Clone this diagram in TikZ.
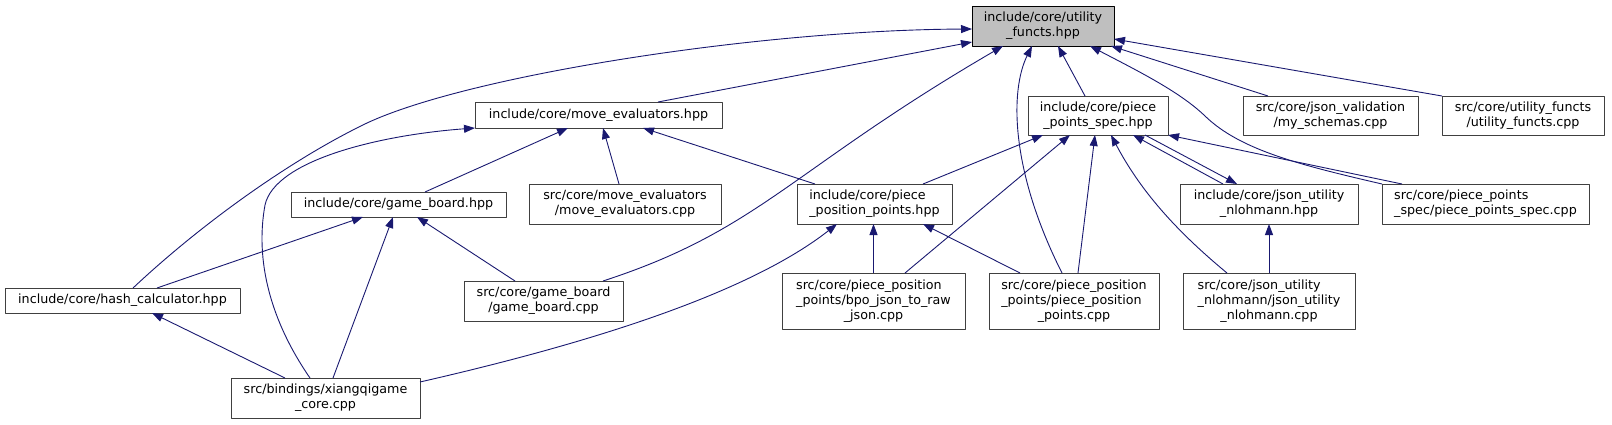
\documentclass[tikz,border=0pt]{standalone}
\usepackage{fontspec}
\setmainfont{DejaVu Sans}
\usetikzlibrary{arrows.meta}
\usepackage{xcolor}
\definecolor{edgeblue}{HTML}{191970}
\definecolor{boxline}{HTML}{404040}
\definecolor{rootgray}{HTML}{BFBFBF}
% file label: leading lines flush left, last line centred
\newcommand{\doxlabel}[2]{\begin{tabular}{@{}l@{}}#1\\\multicolumn{1}{@{}c@{}}{#2}\end{tabular}}

\begin{document}
\begin{tikzpicture}[x=1pt, y=-1pt, line join=round, >={Triangle[length=11pt,width=8pt]},
    filebox/.style={draw=boxline, line width=1pt, fill=white, inner sep=0pt, outer sep=0pt,
      font=\fontsize{12.7}{15}\selectfont},
    rootbox/.style={filebox, draw=black, fill=rootgray},
    dep/.style={->, draw=edgeblue, line width=0.9pt}]
  \useasboundingbox (0,0) rectangle (1612,424);

  % ========================================================
  % 1. FILE NODES (top row: included header)
  % ========================================================
  \node[rootbox, minimum width=142pt, minimum height=40pt] (uf) at (1043,26) {\doxlabel{include/core/utility}{\_functs.hpp}};

  % second row
  \node[filebox, minimum width=247pt, minimum height=26pt] (me) at (598.5,115) {include/core/move\_evaluators.hpp};
  \node[filebox, minimum width=140pt, minimum height=39pt] (pps) at (1098,115.5) {\doxlabel{include/core/piece}{\_points\_spec.hpp}};
  \node[filebox, minimum width=175pt, minimum height=39pt] (schemas) at (1330.5,115.5) {\doxlabel{src/core/json\_validation}{/my\_schemas.cpp}};
  \node[filebox, minimum width=162pt, minimum height=39pt] (ufcpp) at (1523,115.5) {\doxlabel{src/core/utility\_functs}{/utility\_functs.cpp}};

  % third row
  \node[filebox, minimum width=215pt, minimum height=25pt] (gb) at (398.5,204.5) {include/core/game\_board.hpp};
  \node[filebox, minimum width=192pt, minimum height=40pt] (mecpp) at (625,204) {\doxlabel{src/core/move\_evaluators}{/move\_evaluators.cpp}};
  \node[filebox, minimum width=155pt, minimum height=40pt] (pph) at (874.5,204) {\doxlabel{include/core/piece}{\_position\_points.hpp}};
  \node[filebox, minimum width=178pt, minimum height=40pt] (jun) at (1269,204) {\doxlabel{include/core/json\_utility}{\_nlohmann.hpp}};
  \node[filebox, minimum width=207pt, minimum height=40pt] (ppscpp) at (1485.5,204) {\doxlabel{src/core/piece\_points}{\_spec/piece\_points\_spec.cpp}};

  % fourth row
  \node[filebox, minimum width=235pt, minimum height=25pt] (hash) at (122.5,300.5) {include/core/hash\_calculator.hpp};
  \node[filebox, minimum width=159pt, minimum height=40pt] (gbcpp) at (543.5,301) {\doxlabel{src/core/game\_board}{/game\_board.cpp}};
  \node[filebox, minimum width=183pt, minimum height=56pt] (bpo) at (873.5,301) {\doxlabel{src/core/piece\_position\\\_points/bpo\_json\_to\_raw}{\_json.cpp}};
  \node[filebox, minimum width=170pt, minimum height=56pt] (ppcpp) at (1074,301) {\doxlabel{src/core/piece\_position\\\_points/piece\_position}{\_points.cpp}};
  \node[filebox, minimum width=172pt, minimum height=56pt] (juncpp) at (1269,301) {\doxlabel{src/core/json\_utility\\\_nlohmann/json\_utility}{\_nlohmann.cpp}};

  % bottom row
  \node[filebox, minimum width=189pt, minimum height=40pt] (core) at (325.5,398) {\doxlabel{src/bindings/xiangqigame}{\_core.cpp}};

  % ========================================================
  % 2. EDGES INTO utility_functs.hpp
  % ========================================================
  \draw[dep] ([xshift=10.5pt]hash.north) .. controls (200,225) and (290,160) .. (367,123)
    .. controls (470,75) and (760,30) .. ([yshift=-3pt]uf.west);
  \draw[dep] ([xshift=59.5pt]me.north) -- ([yshift=-16pt]uf.west);
  \draw[dep] ([xshift=59.5pt]gbcpp.north) .. controls (760,230) and (790,170) .. ([xshift=-40pt]uf.south);
  \draw[dep] ([xshift=-12pt]ppcpp.north) .. controls (1010,170) and (1010,90) .. ([xshift=-11pt]uf.south);
  \draw[dep] ([xshift=-13pt]pps.north) -- ([xshift=15pt]uf.south);
  \draw[dep] (ppscpp.north west) .. controls (1300,165) and (1240,150) .. (1205,116)
    .. controls (1180,92) and (1140,72) .. ([xshift=47pt]uf.south);
  \draw[dep] ([xshift=-62.5pt]schemas.north) -- ([xshift=-3pt]uf.south east);
  \draw[dep] (ufcpp.north west) -- ([yshift=-13pt]uf.east);

  % ========================================================
  % 3. EDGES INTO move_evaluators.hpp AND game_board.hpp
  % ========================================================
  \draw[dep] ([xshift=-15.5pt]core.north) .. controls (270,320) and (255,260) .. (265,205)
    .. controls (275,160) and (380,135) .. (me.south west);
  \draw[dep] ([xshift=26.5pt]gb.north) -- ([xshift=-30.5pt]me.south);
  \draw[dep] ([xshift=-6pt]mecpp.north) -- ([xshift=4.5pt]me.south);
  \draw[dep] ([xshift=-59.5pt]pph.north) -- ([xshift=44.5pt]me.south);

  \draw[dep] ([xshift=34.5pt]hash.north) -- ([xshift=-35.5pt]gb.south);
  \draw[dep] ([xshift=7.5pt]core.north) -- ([xshift=-5.5pt]gb.south);
  \draw[dep] ([xshift=-28.5pt]gbcpp.north) -- ([xshift=18.5pt]gb.south);
  \draw[dep] ([xshift=-40.5pt]core.north) -- ([xshift=29.5pt]hash.south);

  % ========================================================
  % 4. EDGES INTO piece_position_points.hpp
  % ========================================================
  \draw[dep] ([yshift=16pt]core.east) .. controls (560,350) and (740,300) .. ([xshift=-37.5pt]pph.south);
  \draw[dep] (bpo.north) -- (bpo.north |- pph.south);
  \draw[dep] ([xshift=-54pt]ppcpp.north) -- ([xshift=48.5pt]pph.south);

  % ========================================================
  % 5. EDGES INTO piece_points_spec.hpp AND json_utility_nlohmann.hpp
  % ========================================================
  \draw[dep] ([xshift=48.5pt]pph.north) -- ([xshift=-55pt]pps.south);
  \draw[dep] ([xshift=31.5pt]bpo.north) -- ([xshift=-28pt]pps.south);
  \draw[dep] ([xshift=4pt]ppcpp.north) -- ([xshift=-3pt]pps.south);
  \draw[dep] ([xshift=-42pt]juncpp.north) .. controls (1175,230) and (1140,190) .. ([xshift=13pt]pps.south);
  \draw[dep] ([xshift=-46pt]jun.north) -- ([xshift=35pt]pps.south);
  \draw[dep] ([xshift=47pt]pps.south) -- ([xshift=-32pt]jun.north);
  \draw[dep] ([xshift=20pt]ppscpp.north west) -- (pps.south east);

  \draw[dep] (juncpp.north) -- (jun.south);

\end{tikzpicture}
\end{document}
